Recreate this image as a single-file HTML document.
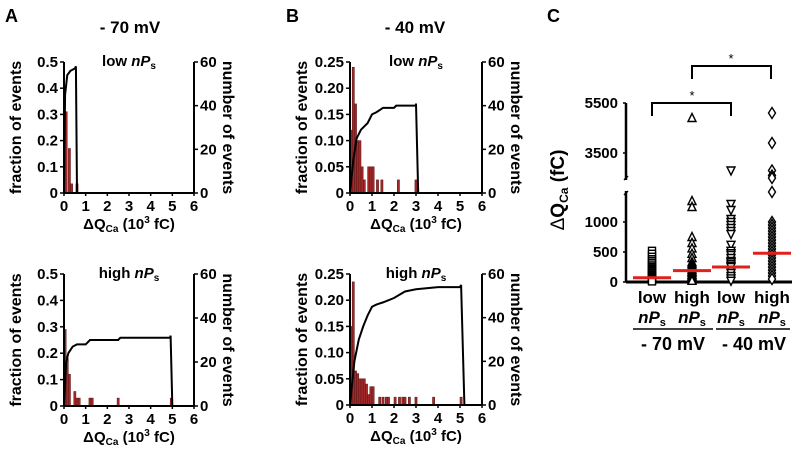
<!DOCTYPE html>
<html><head><meta charset="utf-8">
<style>
body{margin:0;background:#fff;}
svg{display:block;font-family:"Liberation Sans",Arial,sans-serif;font-weight:bold;}
</style></head>
<body>
<svg id="fig" width="800" height="461" viewBox="0 0 800 461">
<text x="5" y="22" font-size="18">A</text>
<text x="286" y="22" font-size="18">B</text>
<text x="547" y="22" font-size="18">C</text>
<text x="130" y="33" font-size="17" text-anchor="middle">- 70 mV</text>
<text x="415" y="33" font-size="17" text-anchor="middle">- 40 mV</text>
</svg>
<script>
// ---- Histogram data ----
const aLowBins=[0.1,0.25,0.35,0.6];
const aLowFrac=[0.31,0.17,0.035,0.035];
const aLowCumX=[0,0.05,0.15,0.3,0.5,0.55,0.6];
const aLowCumN=[0,45,54,56,57,58,0];

const aHighBins=[0.05,0.15,0.25,0.5,0.6,0.7,1.2,1.3,2.5,4.95];
const aHighFrac=[0.29,0.18,0.12,0.055,0.03,0.03,0.03,0.03,0.03,0.03];
const aHighCumX=[0,0.1,0.2,0.4,0.6,1.0,1.2,2.5,2.6,4.9,4.92,5.0];
const aHighCumN=[0,20,24,27,28,28,30,30,31,31,32,0];

const bLowBins=[0.05,0.15,0.25,0.35,0.45,0.55,0.65,0.85,0.95,1.05,1.25,1.45,2.2,3.0];
const bLowFrac=[0.12,0.24,0.17,0.1,0.1,0.05,0.025,0.05,0.05,0.05,0.025,0.025,0.025,0.025];
const bLowCumX=[0,0.15,0.3,0.5,0.8,1.0,1.2,1.5,2.0,2.1,3.0,3.0,3.1];
const bLowCumN=[0,15,25,29,32,36,37,39,39,40,40,41,0];

const bHighBins=[0.05,0.15,0.25,0.35,0.45,0.55,0.65,0.75,0.85,0.95,1.05,1.35,1.5,1.65,1.75,2.05,2.25,2.4,2.5,2.7,3.0,3.8,5.05];
const bHighFrac=[0.15,0.235,0.065,0.06,0.05,0.05,0.05,0.04,0.02,0.035,0.035,0.015,0.015,0.015,0.015,0.015,0.015,0.015,0.015,0.015,0.015,0.015,0.015];
const bHighCumX=[0,0.2,0.4,0.6,0.8,1.0,1.2,1.5,2.0,2.5,3.0,4.0,5.0,5.05,5.2];
const bHighCumN=[0,20,30,36,41,45,46,47,49,52,53,54,54,55,0];

const fracTicksA=["0","0.1","0.2","0.3","0.4","0.5"];
const fracTicksB=["0","0.05","0.10","0.15","0.20","0.25"];
const countTicks=["0","20","40","60"];
const xTicks=["0","1","2","3","4","5","6"];

// ---- Scatter data (panel C) ----
const groupNames=["low","high","low","high"];
const medians=[70,190,250,480];
const g1=[520,470,420,380,350,320,290,260,240,220,200,180,160,140,120,100,85,70,55,40,25,10];
const g2=[4900,1350,1250,750,650,560,470,400,330,300,270,250,230,200,170,150,120,100,80,60,40,20];
const g3=[2800,1300,1200,1050,1000,950,900,850,800,620,520,480,450,400,350,330,300,270,250,200,150,100,60,20];
const g4=[5100,3900,2800,2600,2500,1500,1000,950,900,850,800,750,700,650,600,550,500,450,400,350,300,250,200,150,100,50];

const NS="http://www.w3.org/2000/svg";
const svg=document.getElementById('fig');
function mk(tag,attrs,parent){const e=document.createElementNS(NS,tag);for(const k in attrs)e.setAttribute(k,attrs[k]);(parent||svg).appendChild(e);return e;}

function panel(cfg){
  const {x0,x1,yTop,yBot,fmax,ticks,bins,frac,cx,cn,sub,id}=cfg;
  const g=mk('g',{});
  
  
  const X=v=>x0+(x1-x0)*v/6;
  const Y=f=>yBot-(yBot-yTop)*f/fmax;
  const YN=n=>yBot-(yBot-yTop)*n/60;
  const bw=(x1-x0)/60;
  bins.forEach((b,i)=>{
    const r=mk('rect',{x:X(b)-bw/2,y:Y(frac[i]),width:bw,height:yBot-Y(frac[i]),fill:'#a3282a',stroke:'#5a1414','stroke-width':0.5},g);
    
    
  });
  const pts=cx.map((v,i)=>X(v)+','+YN(cn[i])).join(' ');
  const pl=mk('polyline',{points:pts,fill:'none',stroke:'#000','stroke-width':2},g);
  
  
  mk('line',{x1:x0,y1:yTop,x2:x0,y2:yBot,stroke:'#000','stroke-width':2},g);
  mk('line',{x1:x1,y1:yTop,x2:x1,y2:yBot,stroke:'#000','stroke-width':2},g);
  mk('line',{x1:x0,y1:yBot,x2:x1,y2:yBot,stroke:'#000','stroke-width':2},g);
  ticks.forEach((t,i)=>{
    const y=yBot-(yBot-yTop)*i/(ticks.length-1);
    mk('line',{x1:x0-4,y1:y,x2:x0,y2:y,stroke:'#000','stroke-width':1.5},g);
    const tx=mk('text',{x:x0-6,y:y+5,'font-size':15,'text-anchor':'end'},g);tx.textContent=t;
  });
  countTicks.forEach((t,i)=>{
    const y=YN(i*20);
    mk('line',{x1:x1,y1:y,x2:x1+4,y2:y,stroke:'#000','stroke-width':1.5},g);
    const tx=mk('text',{x:x1+6,y:y+5,'font-size':15},g);tx.textContent=t;
  });
  xTicks.forEach((t,i)=>{
    mk('line',{x1:X(i),y1:yBot,x2:X(i),y2:yBot+3,stroke:'#000','stroke-width':1.5},g);
    const tx=mk('text',{x:X(i),y:yBot+18,'font-size':15,'text-anchor':'middle'},g);tx.textContent=t;
  });
  const mid=(x0+x1)/2;
  const xl=mk('text',{x:mid,y:yBot+36,'font-size':15,'text-anchor':'middle'},g);
  xl.innerHTML='ΔQ<tspan font-size="10" dy="3">Ca</tspan><tspan dy="-3"> (10</tspan><tspan font-size="10" dy="-6">3</tspan><tspan dy="6"> fC)</tspan>';
  
  
  const yc=(yTop+yBot)/2;
  const yl=mk('text',{x:0,y:0,'font-size':16,'text-anchor':'middle',transform:`translate(${x0-43},${yc}) rotate(-90)`},g);
  yl.textContent='fraction of events';
  
  
  const yr=mk('text',{x:0,y:0,'font-size':16,'text-anchor':'middle',transform:`translate(${x1+29},${yc}) rotate(90)`},g);
  yr.textContent='number of events';
  
  
  const st=mk('text',{x:mid,y:yTop+4,'font-size':15,'text-anchor':'middle'},g);
  st.innerHTML=sub+' <tspan font-style="italic">nP</tspan><tspan font-size="10" dy="3">s</tspan>';
  
  
}
panel({id:'a-low',x0:64,x1:194,yTop:62,yBot:193,fmax:0.5,ticks:fracTicksA,bins:aLowBins,frac:aLowFrac,cx:aLowCumX,cn:aLowCumN,sub:'low'});
panel({id:'a-high',x0:64,x1:194,yTop:274,yBot:406,fmax:0.5,ticks:fracTicksA,bins:aHighBins,frac:aHighFrac,cx:aHighCumX,cn:aHighCumN,sub:'high'});
panel({id:'b-low',x0:350,x1:482,yTop:62,yBot:193,fmax:0.25,ticks:fracTicksB,bins:bLowBins,frac:bLowFrac,cx:bLowCumX,cn:bLowCumN,sub:'low'});
panel({id:'b-high',x0:350,x1:482,yTop:274,yBot:405,fmax:0.25,ticks:fracTicksB,bins:bHighBins,frac:bHighFrac,cx:bHighCumX,cn:bHighCumN,sub:'high'});

// ---- Panel C ----
const gc=mk('g',{});


const ax=626, y0=282;
function YC(v){ if(v<=1550) return y0-v*0.06; return 153-(v-3500)/40; }
const cxs=[652,692,731,772];
mk('line',{x1:ax,y1:103,x2:ax,y2:180,stroke:'#000','stroke-width':2.5},gc);
mk('line',{x1:ax,y1:191,x2:ax,y2:y0,stroke:'#000','stroke-width':2.5},gc);
mk('line',{x1:ax-2,y1:180,x2:ax+2,y2:176,stroke:'#000','stroke-width':1.5},gc);
mk('line',{x1:ax-2,y1:195,x2:ax+2,y2:191,stroke:'#000','stroke-width':1.5},gc);
mk('line',{x1:ax,y1:y0,x2:792,y2:y0,stroke:'#000','stroke-width':3},gc);
[[0,'0'],[500,'500'],[1000,'1000'],[3500,'3500'],[5500,'5500']].forEach(([v,t])=>{
  const y=YC(v);
  mk('line',{x1:ax-3,y1:y,x2:ax,y2:y,stroke:'#000','stroke-width':1.5},gc);
  const tx=mk('text',{x:ax-8,y:y+5,'font-size':15,'text-anchor':'end'},gc);tx.textContent=t;
});
const cyl=mk('text',{x:0,y:0,'font-size':19,'text-anchor':'middle',transform:'translate(564,190) rotate(-90)'},gc);
cyl.innerHTML='<tspan font-weight="normal">Δ</tspan>Q<tspan font-size="12" dy="4">Ca</tspan><tspan dy="-4"> (fC)</tspan>';


function marker(shape,x,y){
  let e;
  if(shape==0) e=mk('rect',{x:x-3.5,y:y-3.5,width:7,height:7,fill:'#fff',stroke:'#000','stroke-width':1.4},gc);
  else if(shape==1) e=mk('polygon',{points:`${x},${y-4.5} ${x+4},${y+3.5} ${x-4},${y+3.5}`,fill:'#fff',stroke:'#000','stroke-width':1.4},gc);
  else if(shape==2) e=mk('polygon',{points:`${x},${y+4.5} ${x+4},${y-3.5} ${x-4},${y-3.5}`,fill:'#fff',stroke:'#000','stroke-width':1.4},gc);
  else e=mk('polygon',{points:`${x},${y-5.5} ${x+3.5},${y} ${x},${y+5.5} ${x-3.5},${y}`,fill:'#fff',stroke:'#000','stroke-width':1.4},gc);
  
  
}
[g1,g2,g3,g4].forEach((arr,gi)=>{
  arr.forEach(v=>marker(gi,cxs[gi],YC(v)));
  const m=mk('line',{x1:cxs[gi]-19,y1:YC(medians[gi]),x2:cxs[gi]+19,y2:YC(medians[gi]),stroke:'#e0201b','stroke-width':3},gc);
  
  
  const t1=mk('text',{x:cxs[gi],y:303,'font-size':17,'text-anchor':'middle'},gc);t1.textContent=groupNames[gi];
  const t2=mk('text',{x:cxs[gi],y:323,'font-size':17,'text-anchor':'middle'},gc);
  t2.innerHTML='<tspan font-style="italic">nP</tspan><tspan font-size="11" dy="3">s</tspan>';
});
mk('line',{x1:633,y1:329,x2:713,y2:329,stroke:'#000','stroke-width':1.5},gc);
mk('line',{x1:716,y1:329,x2:790,y2:329,stroke:'#000','stroke-width':1.5},gc);
const v1=mk('text',{x:673,y:350,'font-size':18,'text-anchor':'middle'},gc);v1.textContent='- 70 mV';
const v2=mk('text',{x:754,y:350,'font-size':18,'text-anchor':'middle'},gc);v2.textContent='- 40 mV';
mk('polyline',{points:'652,116 652,103 731,103 731,116',fill:'none',stroke:'#000','stroke-width':2},gc);
mk('polyline',{points:'692,79 692,66 771,66 771,79',fill:'none',stroke:'#000','stroke-width':2},gc);
const s1=mk('text',{x:692,y:100,'font-size':13,'text-anchor':'middle','font-weight':'normal'},gc);s1.textContent='*';
const s2=mk('text',{x:731,y:63,'font-size':13,'text-anchor':'middle','font-weight':'normal'},gc);s2.textContent='*';
</script>
</body></html>
